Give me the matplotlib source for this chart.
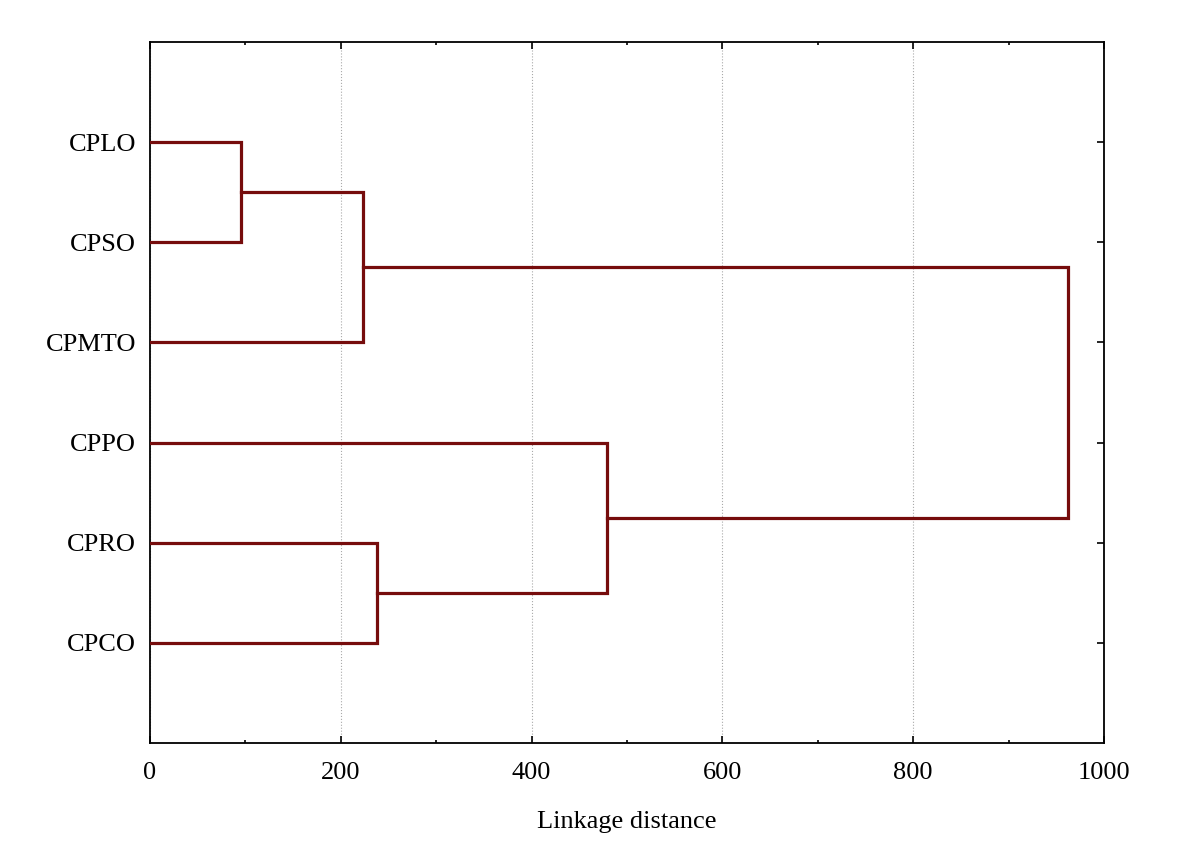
import matplotlib
matplotlib.use("Agg")
import matplotlib.pyplot as plt
from matplotlib.ticker import MultipleLocator

# leaves, top to bottom
labels = ["CPLO", "CPSO", "CPMTO", "CPPO", "CPRO", "CPCO"]
# merges: (cluster a, cluster b, linkage distance), new clusters numbered from 6
merge_a = [0, 6, 4, 3, 7]
merge_b = [1, 2, 5, 8, 9]
merge_dist = [95.5, 223, 238, 479, 962]

plt.rcParams['font.family'] = ['Liberation Serif', 'DejaVu Serif']

fig = plt.figure(figsize=(11.84, 8.41), dpi=100)
ax = fig.add_axes([0.1267, 0.1165, 0.8057, 0.8336])

line_color = '#760c0c'
pos = {i: (0.0, i + 1.0) for i in range(len(labels))}
for k in range(len(merge_a)):
    xa, ya = pos[merge_a[k]]
    xb, yb = pos[merge_b[k]]
    d = merge_dist[k]
    ax.plot([xa, d, d, xb], [ya, ya, yb, yb], color=line_color, lw=2.3,
            solid_joinstyle='miter', zorder=3)
    pos[len(labels) + k] = (d, (ya + yb) / 2)

ax.set_xlim(0, 1000)
ax.set_ylim(len(labels) + 1, 0)
ax.set_yticks(range(1, len(labels) + 1))
ax.set_yticklabels(labels)
ax.xaxis.set_major_locator(MultipleLocator(200))
ax.xaxis.set_minor_locator(MultipleLocator(100))
ax.grid(axis='x', which='major', color='#aaaaaa', linestyle=':', lw=0.8)
ax.tick_params(which='both', direction='in', top=True, right=True,
               labelsize=19, width=1.2)
ax.tick_params(axis='x', pad=14)
ax.tick_params(axis='y', pad=10)
ax.tick_params(which='major', length=5)
ax.tick_params(which='minor', length=2.5)
for s in ax.spines.values():
    s.set_linewidth(1.3)
ax.set_xlabel("Linkage distance", fontsize=19, labelpad=19)

fig.savefig("out.png", dpi=100)
